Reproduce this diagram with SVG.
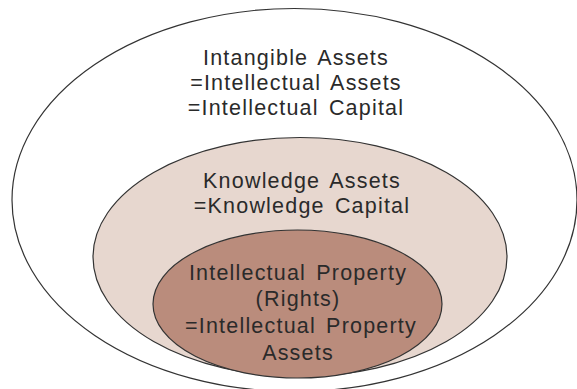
<svg xmlns="http://www.w3.org/2000/svg" width="577" height="389" viewBox="0 0 577 389">
<style>
.ring{stroke:#333;stroke-width:1.2}
.t{font-family:"Liberation Sans",Arial,sans-serif;font-size:21.5px;fill:#2a2a2a;text-anchor:middle;letter-spacing:1.2px;word-spacing:3px}
</style>
<rect width="577" height="389" fill="#fff"/>
<g id="intangible-assets">
<ellipse class="ring" cx="294.5" cy="200" rx="282.5" ry="191.5" fill="#fff"/>
<text class="t" x="296" y="65">Intangible Assets</text>
<text class="t" x="296" y="90">=Intellectual Assets</text>
<text class="t" x="296" y="115">=Intellectual Capital</text>
</g>
<g id="knowledge-assets">
<ellipse class="ring" cx="300" cy="257" rx="207" ry="119.5" fill="#e7d7cf"/>
<text class="t" x="302" y="188">Knowledge Assets</text>
<text class="t" x="302" y="213">=Knowledge Capital</text>
</g>
<g id="intellectual-property">
<ellipse class="ring" cx="297.5" cy="304" rx="144.5" ry="74" fill="#ba8c7c"/>
<text class="t" x="298" y="280">Intellectual Property</text>
<text class="t" x="298" y="306">(Rights)</text>
<text class="t" x="301" y="333">=Intellectual Property</text>
<text class="t" x="298" y="360">Assets</text>
</g>
<g id="connectors"/>
</svg>
